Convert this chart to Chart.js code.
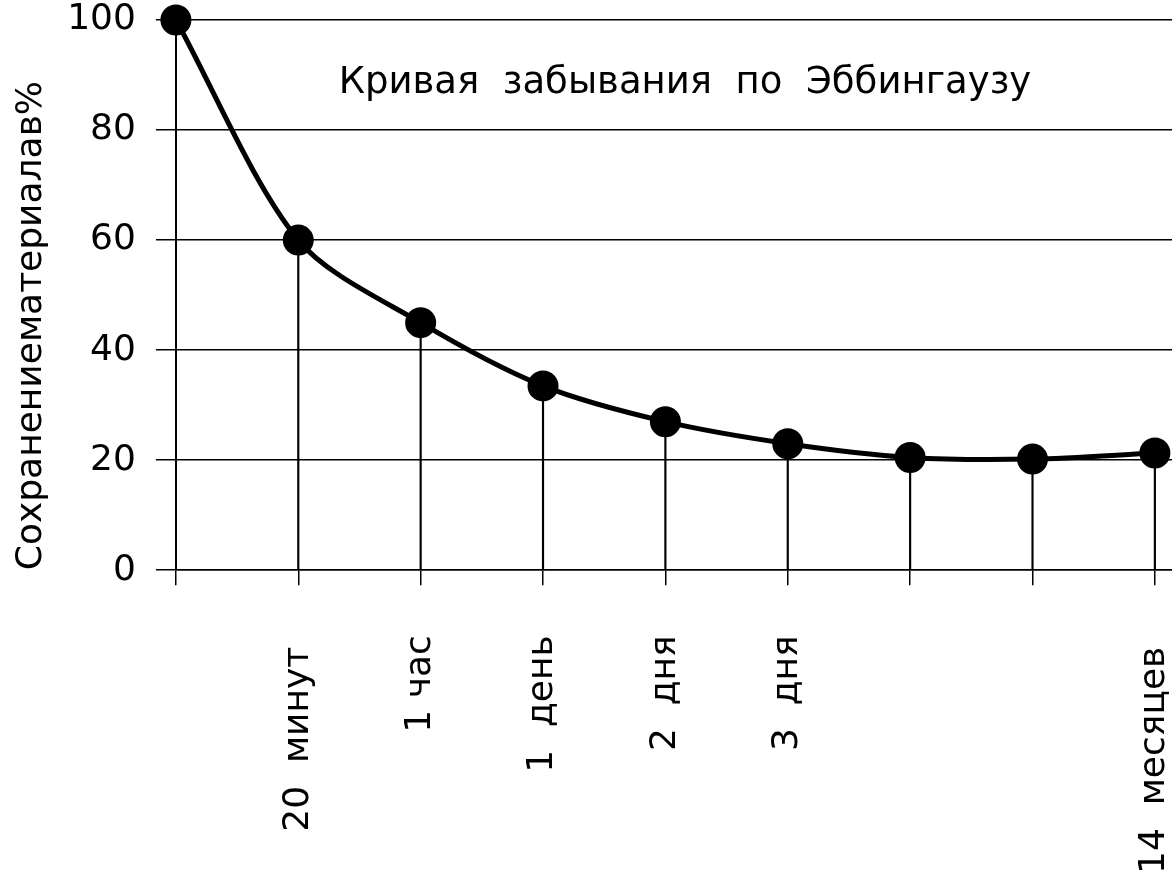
<!DOCTYPE html>
<html>
<head>
<meta charset="utf-8">
<script src="https://cdn.jsdelivr.net/npm/chart.js@4.4.1/dist/chart.umd.min.js"></script>
<style>
  html, body { margin: 0; padding: 0; background: #fff; }
  #wrap { width: 1172px; height: 886px; }
</style>
</head>
<body>
<div id="wrap"><canvas id="c"></canvas></div>
<script>
// forgetting curve
var labels = ['', '20  минут ', '1 час', '1  день', '2  дня', '3  дня', '', '', '14  месяцев '];
var retention = [100, 60, 45, 33.5, 27, 23, 20.5, 20.2, 21.3];
var yTicks = [0, 20, 40, 60, 80, 100];
var chartTitle = 'Кривая  забывания  по  Эббингаузу';
var yTitle = 'Сохранениематериалав%';

var FONT = 'DejaVu Sans';

function toPoints(vals) {
  var out = [];
  for (var i = 0; i < vals.length; i++) {
    out.push({x: i, y: vals[i]});
  }
  return out;
}

var innerTitle = {
  id: 'innerTitle',
  afterDraw: function(chart) {
    var ctx = chart.ctx;
    var xs = chart.scales.x, ys = chart.scales.y;
    ctx.save();
    ctx.font = '37px "' + FONT + '"';
    ctx.fillStyle = '#000';
    ctx.textAlign = 'center';
    ctx.textBaseline = 'middle';
    ctx.fillText(chartTitle, xs.getPixelForValue(4.16), ys.getPixelForValue(88.5));
    ctx.restore();
  }
};

Chart.defaults.font.family = FONT;
Chart.defaults.color = '#000';

new Chart(document.getElementById('c'), {
  type: 'line',
  data: {
    datasets: [{
      type: 'line',
      data: toPoints(retention),
      borderColor: '#000',
      backgroundColor: '#000',
      borderWidth: 5,
      pointRadius: 13,
      pointHoverRadius: 13,
      tension: 0.3,
      clip: false,
      order: 1
    }, {
      type: 'bar',
      data: toPoints(retention),
      backgroundColor: '#000',
      barThickness: 1.5,
      order: 2
    }]
  },
  options: {
    responsive: true,
    maintainAspectRatio: false,
    animation: false,
    events: [],
    layout: { autoPadding: false, padding: { top: 20, right: 0, bottom: 0, left: -14 } },
    plugins: {
      legend: { display: false },
      tooltip: { enabled: false }
    },
    scales: {
      x: {
        type: 'linear',
        min: 0,
        max: 8.14,
        offset: false,
        afterFit: function(axis) {
          axis.paddingRight = 0;
          axis.paddingLeft = 0;
          axis.height = axis.height - 38;
        },
        grid: { display: true, offset: false, drawOnChartArea: false, drawTicks: true, tickLength: 15, color: '#000', lineWidth: 1.5 },
        border: { display: true, color: '#000', width: 1.5 },
        ticks: {
          stepSize: 1,
          includeBounds: false,
          autoSkip: false,
          maxRotation: 90,
          minRotation: 90,
          padding: 50,
          font: { size: 36 },
          callback: function(v) { return labels[v] || ''; }
        }
      },
      y: {
        min: 0,
        max: 100,
        afterBuildTicks: function(axis) {
          axis.ticks = yTicks.map(function(v) { return {value: v}; });
        },
        afterFit: function(axis) {
          axis.paddingTop = 0;
          axis.paddingBottom = 0;
        },
        grid: { color: '#000', lineWidth: 1.5, tickLength: 20 },
        border: { display: true, color: '#000', width: 1.5 },
        ticks: { padding: 20, font: { size: 36 } },
        title: {
          display: true,
          text: yTitle,
          align: 'start',
          font: { size: 36 },
          padding: { top: 24, bottom: -6 }
        }
      }
    }
  },
  plugins: [innerTitle]
});
</script>
</body>
</html>
